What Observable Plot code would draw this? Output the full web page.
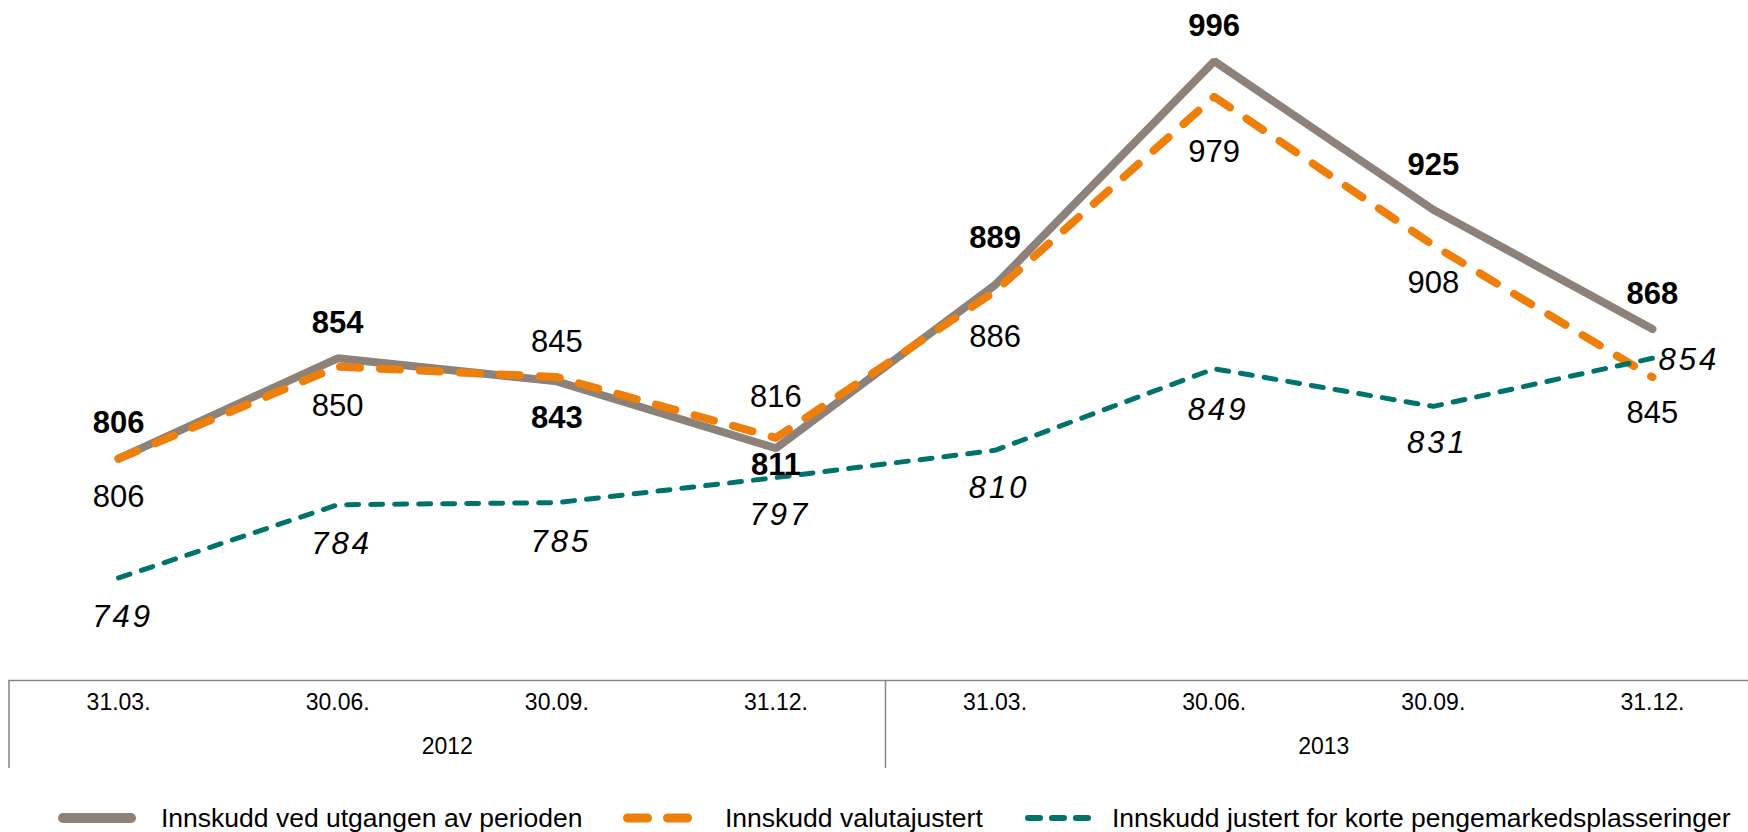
<!DOCTYPE html>
<html>
<head>
<meta charset="utf-8">
<script src="https://cdn.jsdelivr.net/npm/d3@7"></script>
<script src="https://cdn.jsdelivr.net/npm/@observablehq/plot@0.6"></script>
<style>
  html, body { margin: 0; padding: 0; background: #fff; overflow: hidden; }
  #chart svg { display: block; }
  #chart svg g[font-style="italic"], #chart svg g[font-style="italic"] text { letter-spacing: 3px; }
  #legend { position: relative; width: 1748px; height: 32px; font-family: "Liberation Sans", Arial, sans-serif; font-size: 26.5px; color: #000; }
  #legend .item { position: absolute; top: 0; height: 36px; display: flex; align-items: center; white-space: nowrap; }
  #legend svg { display: block; }
</style>
</head>
<body>
<div id="chart"></div>
<div id="legend"></div>
<script>
// ---- data ----
const quarters = ["31.03.", "30.06.", "30.09.", "31.12.", "31.03.", "30.06.", "30.09.", "31.12."];
const years = ["2012", "2013"];
const grossDeposits = [806, 854, 843, 811, 889, 996, 925, 868];
const fxAdjusted = [806, 850, 845, 816, 886, 979, 908, 845];
const moneyMarketAdjusted = [749, 784, 785, 797, 810, 849, 831, 854];
const seriesNames = [
  "Innskudd ved utgangen av perioden",
  "Innskudd valutajustert",
  "Innskudd justert for korte pengemarkedsplasseringer"
];

// ---- styles ----
const GRAY = "#8c8279", ORANGE = "#ee7f0a", TEAL = "#00736d", FRAME = "#868686";
const FONT = "Liberation Sans, Arial, sans-serif";
const idx = d3.range(quarters.length);
const perYear = quarters.length / years.length;
const last = idx.length - 1;

// label placement (pixel offsets from the point)
const grossDy = [-36, -35, 37, 17, -47, -35, -45, -35];
const fxDy = [38, 39, -35, -41, 46, 55, 38, 36];
const mmDy = [39, 39, 39, 38, 38, 41, 37, 2];

const marks = [
  // category frame
  Plot.ruleY([700], {x1: -0.5, x2: quarters.length - 0.5, stroke: FRAME, strokeWidth: 1.5}),
  Plot.ruleX(d3.range(years.length + 1).map(k => k * perYear - 0.5), {stroke: FRAME, strokeWidth: 1.5, insetTop: 680}),
  Plot.text(idx, {x: i => i, text: i => quarters[i], frameAnchor: "bottom", dy: -59, fontSize: 23, fill: "#000"}),
  Plot.text(years, {x: (d, k) => k * perYear + (perYear - 1) / 2, text: d => d, frameAnchor: "bottom", dy: -15, fontSize: 23, fill: "#000"}),
  // lines
  Plot.line(idx, {x: i => i, y: i => grossDeposits[i], stroke: GRAY, strokeWidth: 8, strokeLinejoin: "miter", strokeLinecap: "round"}),
  Plot.line(idx, {x: i => i, y: i => fxAdjusted[i], stroke: ORANGE, strokeWidth: 8, strokeDasharray: "20,20", strokeLinecap: "round", strokeLinejoin: "round"}),
  Plot.line(idx, {x: i => i, y: i => moneyMarketAdjusted[i], stroke: TEAL, strokeWidth: 5, strokeDasharray: "12,12", strokeLinecap: "round", strokeLinejoin: "round"}),
  // labels
  ...idx.map(i => Plot.text([i], {x: i => i, y: i => grossDeposits[i], text: i => String(grossDeposits[i]), dy: grossDy[i], fontSize: 31, fontWeight: "bold", fill: "#000"})),
  ...idx.map(i => Plot.text([i], {x: i => i, y: i => fxAdjusted[i], text: i => String(fxAdjusted[i]), dy: fxDy[i], fontSize: 31, fill: "#000"})),
  ...idx.map(i => Plot.text([i], {
    x: i => i, y: i => moneyMarketAdjusted[i], text: i => String(moneyMarketAdjusted[i]),
    dy: mmDy[i], dx: i === last ? 6 : 4, textAnchor: i === last ? "start" : "middle",
    fontSize: 31, fontStyle: "italic", fill: "#000"
  }))
];

const chart = Plot.plot({
  width: 1748,
  height: 800,
  marginTop: 0,
  marginRight: 0,
  marginLeft: 0,
  marginBottom: 32,
  style: {fontFamily: FONT, background: "#fff", overflow: "hidden"},
  x: {domain: [-0.5, quarters.length - 0.5], range: [8.5, 1761.5], axis: null},
  y: {domain: [700, 1025], range: [680, 0], axis: null},
  marks
});
d3.select(chart).selectAll('g[font-style="italic"] text').attr("letter-spacing", "3").style("letter-spacing", "3px");
document.getElementById("chart").appendChild(chart);

// ---- legend ----
const legend = d3.select("#legend");
const swatches = [
  {color: GRAY, width: 10, dash: null, len: 78, left: 58},
  {color: ORANGE, width: 9, dash: "20,20", len: 69, left: 623},
  {color: TEAL, width: 6, dash: "12,12", len: 66, left: 1025}
];
seriesNames.forEach((name, k) => {
  const s = swatches[k];
  const item = legend.append("div").attr("class", "item").style("left", s.left + "px");
  const svg = item.append("svg").attr("width", s.len).attr("height", 14);
  svg.append("line")
    .attr("x1", s.width / 2).attr("x2", s.len - s.width / 2)
    .attr("y1", 7).attr("y2", 7)
    .attr("stroke", s.color).attr("stroke-width", s.width)
    .attr("stroke-linecap", "round")
    .attr("stroke-dasharray", s.dash);
  item.append("span").style("margin-left", (k === 0 ? 25 : k === 1 ? 33 : 21) + "px").text(name);
});
</script>
</body>
</html>
